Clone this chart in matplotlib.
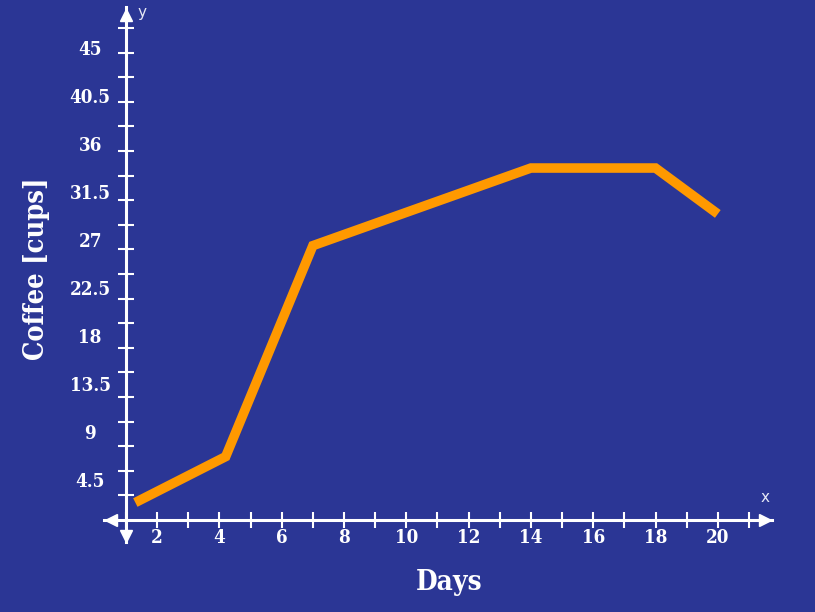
import matplotlib.pyplot as plt
import numpy as np

# values
days = [1.3, 4.2, 7, 14, 18, 20]
cups = [1.6, 5.8, 25.1, 32.2, 32.2, 28.0]

x_ticks = list(range(1, 22))
x_labels = [str(d) if d % 2 == 0 and d <= 20 else '' for d in x_ticks]
y_minor = [2.25 * i for i in range(1, 21)]
y_labels = [4.5, 9, 13.5, 18, 22.5, 27, 31.5, 36, 40.5, 45]

bg = '#2b3695'
fg = 'white'
orange = '#ff9900'
serif = dict(family='DejaVu Serif', weight='bold', stretch='condensed')

fig = plt.figure(figsize=(8.15, 6.12), dpi=100, facecolor=bg)
ax = fig.add_axes([104 / 815, 70 / 612, 668 / 815, 535 / 612])
ax.set_facecolor(bg)

ax.plot(days, cups, color=orange, lw=6.9, solid_capstyle='butt',
        solid_joinstyle='miter', zorder=3)

ax.set_xlim(0.294, 21.74)
ax.set_ylim(-2.01, 46.93)

for s in ['top', 'right']:
    ax.spines[s].set_visible(False)
ax.spines['left'].set_position(('data', 1))
ax.spines['bottom'].set_position(('data', 0))
for s in ['left', 'bottom']:
    ax.spines[s].set_color(fg)
    ax.spines[s].set_linewidth(2.2)

ax.set_xticks(x_ticks, x_labels)
ax.set_yticks(y_minor, [''] * len(y_minor))
ax.tick_params(axis='both', direction='inout', color=fg, width=1.5,
               labelcolor=fg)
ax.tick_params(axis='x', length=11, pad=1)
ax.tick_params(axis='y', length=11.5)
for lab in ax.get_xticklabels():
    lab.set_fontproperties(serif)
    lab.set_fontsize(13.5)

# arrow heads at both ends of the axes
ax.plot([1], [0.985], marker='^', ms=9, color=fg,
        transform=ax.get_xaxis_transform(), clip_on=False)
ax.plot([1], [0.012], marker='v', ms=9, color=fg,
        transform=ax.get_xaxis_transform(), clip_on=False)
ax.plot([0.01], [0], marker='<', ms=9, color=fg,
        transform=ax.get_yaxis_transform(), clip_on=False)
ax.plot([0.99], [0], marker='>', ms=9, color=fg,
        transform=ax.get_yaxis_transform(), clip_on=False)

# y labels sit on a slightly different scale than the tick marks
ax2 = ax.twinx()
ax2.yaxis.tick_left()
for s in ax2.spines.values():
    s.set_visible(False)
ax2.set_ylim(-1.31, 48.84)
ax2.set_yticks(y_labels, [f'{v:g}' for v in y_labels], ha='center',
               color=fg, fontsize=13.5, **serif)
ax2.tick_params(axis='y', length=0, pad=10)

fig.text(37 / 815, 1 - 269 / 612, 'Coffee [cups]', rotation=90, color=fg,
         fontsize=19.5, ha='center', va='center', **serif)
fig.text(449.5 / 815, 1 - 583 / 612, 'Days', color=fg, fontsize=20,
         ha='center', va='center', **serif)
fig.text(142 / 815, 1 - 13 / 612, 'y', color='#e6e8f5', fontsize=11,
         ha='center', va='center')
fig.text(765 / 815, 1 - 498 / 612, 'x', color='#e6e8f5', fontsize=11,
         ha='center', va='center')

fig.savefig('out.png', dpi=100, facecolor=bg)
